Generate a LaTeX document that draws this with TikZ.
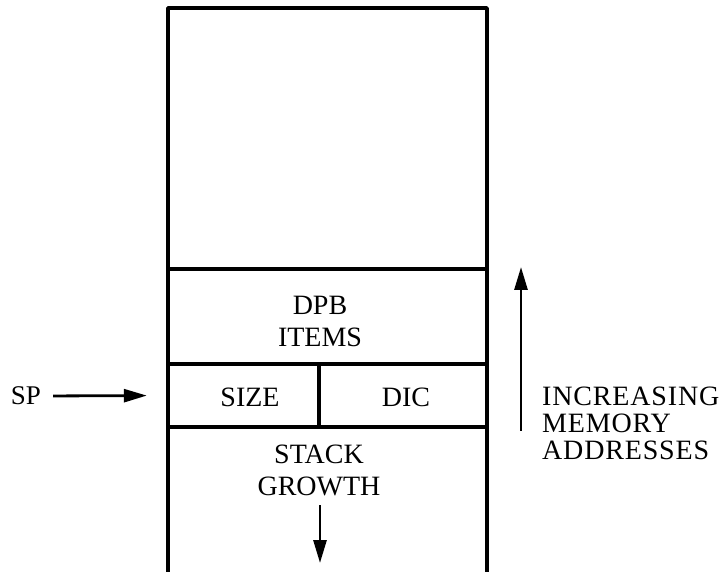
\documentclass[tikz,border=0pt]{standalone}
\usepackage{fontspec}
\setmainfont{Liberation Serif}
\usetikzlibrary{arrows.meta}
\begin{document}
\begin{tikzpicture}[x=1pt,y=-1pt,
  frame/.style={line width=3.4pt},
  lbl/.style={font=\fontsize{28}{32}\selectfont, inner sep=0pt, align=center},
  cell/.style={inner sep=0pt, minimum width=#1},
  arr/.style={line width=2.8pt, -{Triangle[length=23pt,width=13pt]}}
]
\useasboundingbox (0,0) rectangle (724,572);
% frame
\draw[frame, line join=round] (168,572) -- (168,8) -- (487,8) -- (487,572);
\draw[frame] (168,269) -- (487,269);
\draw[frame] (168,364) -- (487,364);
\draw[frame] (168,427) -- (487,427);
\draw[frame] (319,364) -- (319,427);
% cells
\node[cell=151pt, minimum height=63pt] (size) at (243.5,395.5) {};
\node[cell=168pt, minimum height=63pt] (dic) at (403,395.5) {};
\node[lbl] (dpbt) at (320,321) {DPB\\ITEMS};
\node[lbl] (sizet) at (250,397) {SIZE};
\node[lbl] (dict) at (406,397) {DIC};
\node[lbl] (stackt) at (319,470) {STACK\\GROWTH};
% SP
\node[lbl, font=\fontsize{27}{30}\selectfont] (sp) at (26,396) {SP};
\draw[arr, shorten <=12pt, shorten >=21pt] (sp.east) -- (size.west);
% stack growth arrow
\coordinate (sg1) at (320,505);
\coordinate (sg2) at (320,563);
\draw[arr] (sg1) -- (sg2);
% memory arrow
\coordinate (ma1) at (521,431);
\coordinate (ma2) at (521,267);
\draw[arr] (ma1) -- (ma2);
\node[lbl, align=left, anchor=west, font=\fontsize{28}{27}\selectfont\addfontfeature{LetterSpace=3}] (mem) at (542,423) {INCREASING\\MEMORY\\ADDRESSES};
\end{tikzpicture}
\end{document}
